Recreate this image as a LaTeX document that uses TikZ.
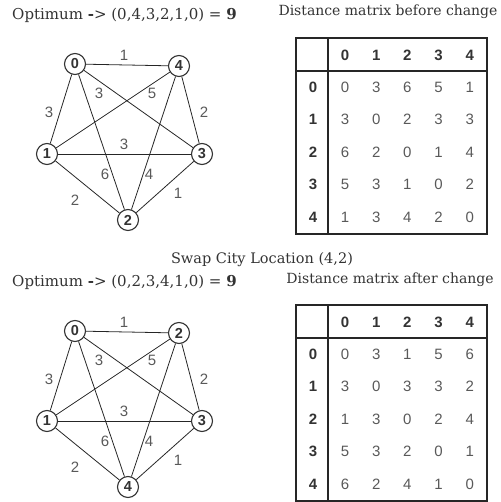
\documentclass[tikz,border=0pt]{standalone}
\usepackage{fontspec}
\setmainfont{DejaVu Serif}
\setsansfont{Liberation Sans}
\tikzset{
 vtx/.style={circle,draw=black!80,line width=1.1pt,inner sep=0pt,minimum size=21pt,fill=white,text=black!80,font=\sffamily\bfseries\fontsize{14.5}{14.5}\selectfont},
 edg/.style={draw=black!85,line width=0.8pt},
 elbl/.style={text=black!65,font=\sffamily\fontsize{15}{15}\selectfont,inner sep=0pt},
 ttl/.style={text=black!80,inner sep=0pt},
 hd/.style={text=black!80,font=\sffamily\bfseries\fontsize{15}{15}\selectfont,inner sep=0pt},
 cell/.style={text=black!65,font=\sffamily\fontsize{15}{15}\selectfont,inner sep=0pt},
 tbl/.style={draw=black!85,line width=1.6pt}
}
\newcommand\tspgraph[5]{%
 \node[vtx] (A) at (75,64) {#1};
 \node[vtx] (B) at (179,66) {#2};
 \node[vtx] (C) at (47,154) {#3};
 \node[vtx] (D) at (202,154) {#4};
 \node[vtx] (E) at (128,220) {#5};
 \foreach \p/\q in {A/B,A/C,A/D,A/E,B/C,B/D,B/E,C/D,C/E,D/E} \draw[edg] (\p) -- (\q);
 \node[elbl] (lAB) at (124,55) {1};
 \node[elbl] (lAD) at (99,93) {3};
 \node[elbl] (lBC) at (152,93) {5};
 \node[elbl] (lAC) at (49,112) {3};
 \node[elbl] (lBD) at (204,112) {2};
 \node[elbl] (lCD) at (124,144) {3};
 \node[elbl] (lAE) at (105,174) {6};
 \node[elbl] (lBE) at (149,174) {4};
 \node[elbl] (lCE) at (75,200) {2};
 \node[elbl] (lDE) at (178,193) {1};
}
\newcommand\disttable[1]{%
 \draw[tbl] (296,38) rectangle (487,234);
 \draw[tbl] (296,71) -- (487,71);
 \draw[tbl] (328,38) -- (328,234);
 \foreach \c in {0,...,4} \node[hd] (h\c) at ({345+31.2*\c},55) {\c};
 \foreach \r in {0,...,4} \node[hd] (r\r) at (313,{87+32.5*\r}) {\r};
 \foreach \row [count=\r from 0] in {#1} {
   \foreach \v [count=\c from 0] in \row {
     \node[cell] (c\r\c) at ({345+31.2*\c},{87+32.5*\r}) {\v};
   }
 }
}
\begin{document}
\begin{tikzpicture}[x=1pt,y=-1pt]
\useasboundingbox (0,0) rectangle (500,502);
\begin{scope}[name prefix=t-]
 \node[ttl,font=\fontsize{15}{15}\selectfont] (title) at (124.5,15) {Optimum {\bfseries -}> (0,4,3,2,1,0) = {\bfseries 9}};
 \node[ttl,font=\fontsize{14}{14}\selectfont] (mtitle) at (388,12) {Distance matrix before change};
 \tspgraph{0}{4}{1}{3}{2}
 \disttable{{0,3,6,5,1},{3,0,2,3,3},{6,2,0,1,4},{5,3,1,0,2},{1,3,4,2,0}}
\end{scope}
\node[ttl,font=\fontsize{14.5}{14.5}\selectfont] (swap) at (262,260) {Swap City Location (4,2)};
\begin{scope}[name prefix=b-,shift={(0,267)}]
 \node[ttl,font=\fontsize{15}{15}\selectfont] (title) at (124.5,15) {Optimum {\bfseries -}> (0,2,3,4,1,0) = {\bfseries 9}};
 \node[ttl,font=\fontsize{14}{14}\selectfont] (mtitle) at (390,13) {Distance matrix after change};
 \tspgraph{0}{2}{1}{3}{4}
 \disttable{{0,3,1,5,6},{3,0,3,3,2},{1,3,0,2,4},{5,3,2,0,1},{6,2,4,1,0}}
\end{scope}
\end{tikzpicture}
\end{document}
